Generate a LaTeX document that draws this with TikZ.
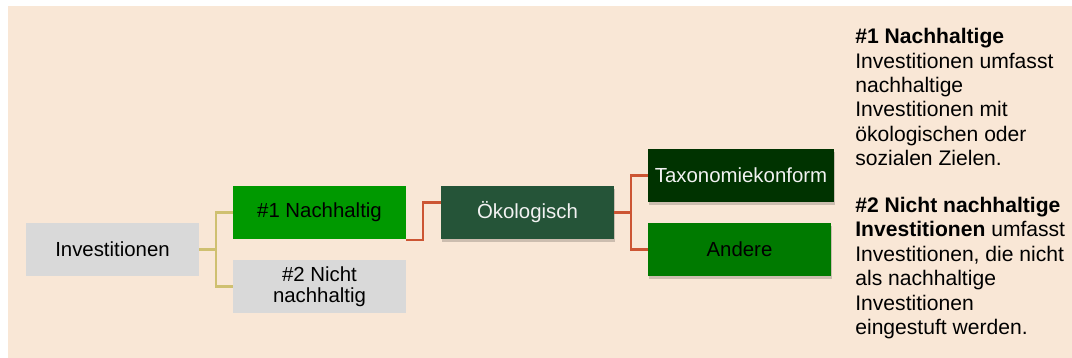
\documentclass[tikz,border=0pt]{standalone}
\usepackage{fontspec}
\setmainfont{Liberation Sans}
\usepackage{xcolor}
\usetikzlibrary{shadows}

\definecolor{hinter}{HTML}{F9E7D6}
\definecolor{grau}{HTML}{D9D9D9}
\definecolor{hellgruen}{HTML}{009900}
\definecolor{mittelgruen}{HTML}{007A00}
\definecolor{oekogruen}{HTML}{255438}
\definecolor{dunkelgruen}{HTML}{003300}
\definecolor{oliv}{HTML}{CFC070}
\definecolor{rot}{HTML}{CC5533}

\begin{document}
\begin{tikzpicture}[
	kasten/.style={minimum width=3.46cm, minimum height=1.06cm, inner sep=0pt, align=center, font=\fontsize{11.6}{12}\selectfont},
	schatten/.style={drop shadow={shadow xshift=0.8pt, shadow yshift=-1.8pt, fill=black, opacity=0.18}},
	olivlinie/.style={draw=oliv, line width=1.2pt},
	rotlinie/.style={draw=rot, line width=1.2pt}]
			% фон
			\useasboundingbox (0,0) rectangle (21.44,7.16);
			\fill [hinter] (0.16,0) rectangle (21.44,7.04);
			% kasten
			\node [kasten, fill=grau] (invest) at (2.25,2.17) {Investitionen};
			\node [kasten, fill=hellgruen] (nach) at (6.39,2.91) {\#1 Nachhaltig};
			\node [kasten, fill=grau] (nicht) at (6.39,1.43) {\#2 Nicht\\nachhaltig};
			\node [kasten, schatten, fill=oekogruen, text=white!95!black] (oeko) at (10.55,2.91) {Ökologisch};
			\node [kasten, schatten, fill=dunkelgruen, text=white!95!black, minimum width=3.72cm] (taxo) at (14.82,3.65) {Taxonomiekonform};
			\node [kasten, schatten, fill=mittelgruen, minimum width=3.66cm] (andere) at (14.79,2.17) {Andere};
			% linien
			\draw [olivlinie] (invest.east) -- ++(0.34,0) |- (nach.west);
			\draw [olivlinie] (invest.east) -- ++(0.34,0) |- (nicht.west);
			\draw [rotlinie] (nach.south east) ++(0,-0.02) -- ++(0.34,0) |- ([yshift=0.2cm]oeko.west);
			\draw [rotlinie] (oeko.east) -- ++(0.34,0) |- (taxo.west);
			\draw [rotlinie] (oeko.east) -- ++(0.34,0) |- (andere.west);
			% text
			\node [anchor=north west, inner sep=0pt, align=left, font=\fontsize{12}{13.9}\selectfont] (info) at (17.1,6.6)
				{\textbf{\#1 Nachhaltige}\\Investitionen umfasst\\nachhaltige\\Investitionen mit\\ökologischen oder\\sozialen Zielen.\\[12.7pt]
				\textbf{\#2 Nicht nachhaltige}\\\textbf{Investitionen} umfasst\\Investitionen, die nicht\\als nachhaltige\\Investitionen\\eingestuft werden.};
\end{tikzpicture}
\end{document}
